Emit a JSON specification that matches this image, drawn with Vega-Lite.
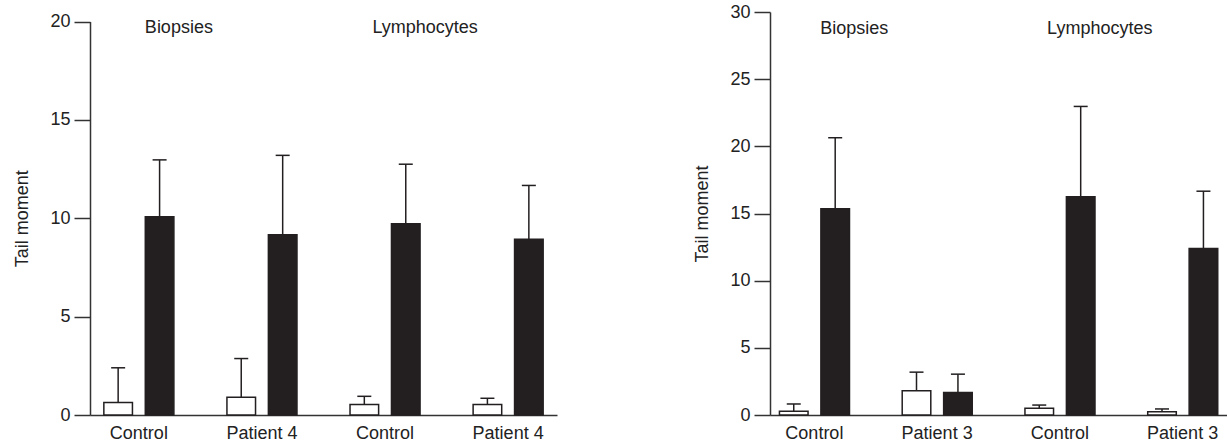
{
  "$schema": "https://vega.github.io/schema/vega-lite/v6.json",
  "padding": {"left": 13, "top": 3, "right": 0, "bottom": 0},
  "spacing": 136,
  "config": {
    "view": {"stroke": null},
    "font": "Liberation Sans",
    "axis": {"domainColor": "#333", "domainWidth": 1.5, "tickColor": "#333", "tickWidth": 1.5, "labelFont": "Liberation Sans", "labelFontSize": 18, "labelColor": "#222", "titleFont": "Liberation Sans", "titleFontSize": 18, "titleFontWeight": "normal", "titleColor": "#222", "grid": false},
    "axisY": {"tickSize": 16, "labelPadding": 4, "titlePadding": 18},
    "axisX": {"ticks": false, "labelPadding": 9, "labelAngle": 0, "title": null}
  },
  "datasets": {
    "bars": [
      {"panel": "A", "group": "Biopsies: Control", "cond": "U", "value": 0.63, "upper": 2.40},
      {"panel": "A", "group": "Biopsies: Control", "cond": "T", "value": 10.08, "upper": 12.97},
      {"panel": "A", "group": "Biopsies: Patient 4", "cond": "U", "value": 0.90, "upper": 2.87},
      {"panel": "A", "group": "Biopsies: Patient 4", "cond": "T", "value": 9.16, "upper": 13.20},
      {"panel": "A", "group": "Lymphocytes: Control", "cond": "U", "value": 0.54, "upper": 0.95},
      {"panel": "A", "group": "Lymphocytes: Control", "cond": "T", "value": 9.72, "upper": 12.75},
      {"panel": "A", "group": "Lymphocytes: Patient 4", "cond": "U", "value": 0.54, "upper": 0.85},
      {"panel": "A", "group": "Lymphocytes: Patient 4", "cond": "T", "value": 8.93, "upper": 11.67},
      {"panel": "B", "group": "Biopsies: Control", "cond": "U", "value": 0.27, "upper": 0.82},
      {"panel": "B", "group": "Biopsies: Control", "cond": "T", "value": 15.35, "upper": 20.64},
      {"panel": "B", "group": "Biopsies: Patient 3", "cond": "U", "value": 1.81, "upper": 3.19},
      {"panel": "B", "group": "Biopsies: Patient 3", "cond": "T", "value": 1.68, "upper": 3.04},
      {"panel": "B", "group": "Lymphocytes: Control", "cond": "U", "value": 0.50, "upper": 0.74},
      {"panel": "B", "group": "Lymphocytes: Control", "cond": "T", "value": 16.24, "upper": 22.97},
      {"panel": "B", "group": "Lymphocytes: Patient 3", "cond": "U", "value": 0.25, "upper": 0.45},
      {"panel": "B", "group": "Lymphocytes: Patient 3", "cond": "T", "value": 12.40, "upper": 16.66}
    ],
    "labels": [
      {"group": "Biopsies: Control", "text": "Biopsies"},
      {"group": "Lymphocytes: Control", "text": "Lymphocytes"}
    ]
  },
  "hconcat": [
    {
      "width": 467,
      "height": 403,
      "encoding": {
        "x": {"field": "group", "type": "nominal", "scale": {"domain": ["Biopsies: Control", "Biopsies: Patient 4", "Lymphocytes: Control", "Lymphocytes: Patient 4"], "paddingInner": 0.431, "paddingOuter": 0.1125}, "axis": {"labelExpr": "split(datum.value, ': ')[1]"}}
      },
      "layer": [
        {
          "data": {"name": "bars"},
          "transform": [{"filter": "datum.panel == 'A'"}],
          "mark": {"type": "bar", "stroke": "#231f20", "strokeWidth": 1.5},
          "encoding": {
            "xOffset": {"field": "cond", "type": "nominal", "scale": {"domain": ["U", "T"], "paddingInner": 0.31, "paddingOuter": 0}},
            "y": {"field": "value", "type": "quantitative", "title": "Tail moment", "scale": {"domain": [0, 20], "nice": false, "range": [403, 9.6]}, "axis": {"values": [0, 5, 10, 15, 20]}},
            "fill": {"field": "cond", "type": "nominal", "scale": {"domain": ["U", "T"], "range": ["#ffffff", "#231f20"]}, "legend": null}
          }
        },
        {
          "data": {"name": "bars"},
          "transform": [{"filter": "datum.panel == 'A'"}],
          "mark": {"type": "rule", "color": "#231f20", "strokeWidth": 1.5},
          "encoding": {
            "xOffset": {"field": "cond", "type": "nominal"},
            "y": {"field": "value", "type": "quantitative", "title": "Tail moment"},
            "y2": {"field": "upper"}
          }
        },
        {
          "data": {"name": "bars"},
          "transform": [{"filter": "datum.panel == 'A'"}],
          "mark": {"type": "tick", "orient": "horizontal", "size": 14, "thickness": 1.5, "color": "#231f20", "opacity": 1},
          "encoding": {
            "xOffset": {"field": "cond", "type": "nominal"},
            "y": {"field": "upper", "type": "quantitative", "title": "Tail moment"}
          }
        },
        {
          "data": {"name": "labels"},
          "mark": {"type": "text", "fontSize": 18, "color": "#222", "baseline": "alphabetic", "align": "center", "dx": 5},
          "encoding": {
            "x": {"field": "group", "type": "nominal", "bandPosition": 1},
            "y": {"datum": 19.4, "type": "quantitative"},
            "text": {"field": "text"}
          }
        }
      ]
    },
    {
      "width": 457,
      "height": 403,
      "encoding": {
        "x": {"field": "group", "type": "nominal", "scale": {"domain": ["Biopsies: Control", "Biopsies: Patient 3", "Lymphocytes: Control", "Lymphocytes: Patient 3"], "paddingInner": 0.431, "paddingOuter": 0.077}, "axis": {"labelExpr": "split(datum.value, ': ')[1]"}}
      },
      "layer": [
        {
          "data": {"name": "bars"},
          "transform": [{"filter": "datum.panel == 'B'"}],
          "mark": {"type": "bar", "stroke": "#231f20", "strokeWidth": 1.5},
          "encoding": {
            "xOffset": {"field": "cond", "type": "nominal", "scale": {"domain": ["U", "T"], "paddingInner": 0.31, "paddingOuter": 0}},
            "y": {"field": "value", "type": "quantitative", "title": "Tail moment", "scale": {"domain": [0, 30], "nice": false}, "axis": {"values": [0, 5, 10, 15, 20, 25, 30]}},
            "fill": {"field": "cond", "type": "nominal", "scale": {"domain": ["U", "T"], "range": ["#ffffff", "#231f20"]}, "legend": null}
          }
        },
        {
          "data": {"name": "bars"},
          "transform": [{"filter": "datum.panel == 'B'"}],
          "mark": {"type": "rule", "color": "#231f20", "strokeWidth": 1.5},
          "encoding": {
            "xOffset": {"field": "cond", "type": "nominal"},
            "y": {"field": "value", "type": "quantitative", "title": "Tail moment"},
            "y2": {"field": "upper"}
          }
        },
        {
          "data": {"name": "bars"},
          "transform": [{"filter": "datum.panel == 'B'"}],
          "mark": {"type": "tick", "orient": "horizontal", "size": 14, "thickness": 1.5, "color": "#231f20", "opacity": 1},
          "encoding": {
            "xOffset": {"field": "cond", "type": "nominal"},
            "y": {"field": "upper", "type": "quantitative", "title": "Tail moment"}
          }
        },
        {
          "data": {"name": "labels"},
          "mark": {"type": "text", "fontSize": 18, "color": "#222", "baseline": "alphabetic", "align": "center", "dx": 5},
          "encoding": {
            "x": {"field": "group", "type": "nominal", "bandPosition": 1},
            "y": {"datum": 28.36, "type": "quantitative"},
            "text": {"field": "text"}
          }
        }
      ]
    }
  ]
}
